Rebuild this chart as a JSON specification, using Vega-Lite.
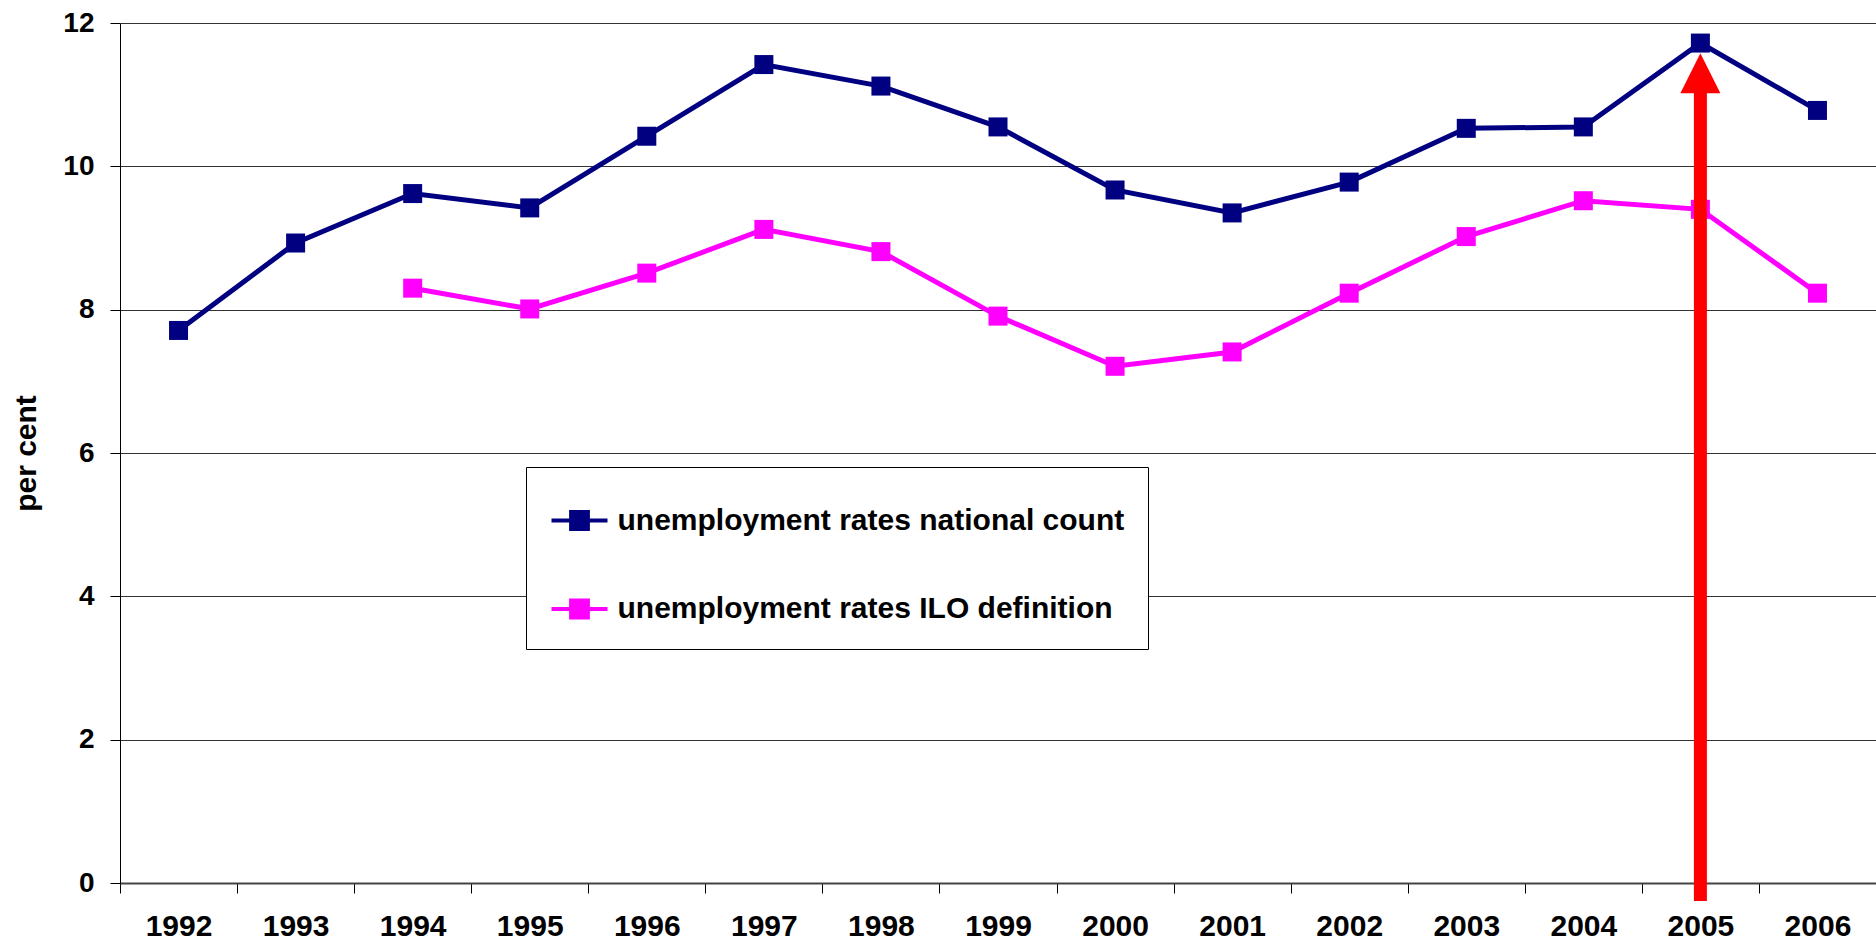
{
  "$schema": "https://vega.github.io/schema/vega-lite/v6.json",
  "autosize": {"type": "none"},
  "padding": {"left": 120, "top": 23, "right": 0, "bottom": 63},
  "width": 1756,
  "height": 860,
  "background": "white",
  "config": {
    "view": {"stroke": null},
    "font": "Liberation Sans",
    "axis": {
      "labelFont": "Liberation Sans",
      "labelFontWeight": "bold",
      "labelColor": "#000",
      "titleFont": "Liberation Sans",
      "titleFontWeight": "bold",
      "titleFontSize": 30,
      "titleColor": "#000"
    }
  },
  "datasets": {
    "rates": [
      {"year": "1992", "series": "unemployment rates national count", "value": 7.71},
      {"year": "1993", "series": "unemployment rates national count", "value": 8.93},
      {"year": "1994", "series": "unemployment rates national count", "value": 9.62},
      {"year": "1995", "series": "unemployment rates national count", "value": 9.42},
      {"year": "1996", "series": "unemployment rates national count", "value": 10.42},
      {"year": "1997", "series": "unemployment rates national count", "value": 11.42},
      {"year": "1998", "series": "unemployment rates national count", "value": 11.12},
      {"year": "1999", "series": "unemployment rates national count", "value": 10.55},
      {"year": "2000", "series": "unemployment rates national count", "value": 9.67},
      {"year": "2001", "series": "unemployment rates national count", "value": 9.35},
      {"year": "2002", "series": "unemployment rates national count", "value": 9.78},
      {"year": "2003", "series": "unemployment rates national count", "value": 10.53},
      {"year": "2004", "series": "unemployment rates national count", "value": 10.55},
      {"year": "2005", "series": "unemployment rates national count", "value": 11.72},
      {"year": "2006", "series": "unemployment rates national count", "value": 10.78},
      {"year": "1994", "series": "unemployment rates ILO definition", "value": 8.30},
      {"year": "1995", "series": "unemployment rates ILO definition", "value": 8.01},
      {"year": "1996", "series": "unemployment rates ILO definition", "value": 8.51},
      {"year": "1997", "series": "unemployment rates ILO definition", "value": 9.12},
      {"year": "1998", "series": "unemployment rates ILO definition", "value": 8.81},
      {"year": "1999", "series": "unemployment rates ILO definition", "value": 7.91},
      {"year": "2000", "series": "unemployment rates ILO definition", "value": 7.21},
      {"year": "2001", "series": "unemployment rates ILO definition", "value": 7.41},
      {"year": "2002", "series": "unemployment rates ILO definition", "value": 8.23},
      {"year": "2003", "series": "unemployment rates ILO definition", "value": 9.02},
      {"year": "2004", "series": "unemployment rates ILO definition", "value": 9.52},
      {"year": "2005", "series": "unemployment rates ILO definition", "value": 9.40},
      {"year": "2006", "series": "unemployment rates ILO definition", "value": 8.23}
    ],
    "marker": [
      {"year": "2005", "from": -0.25, "to": 11.05, "head": 11.3}
    ]
  },
  "layer": [
    {
      "data": {"name": "rates"},
      "mark": {"type": "line", "strokeWidth": 5},
      "encoding": {
        "x": {
          "field": "year", "type": "ordinal",
          "scale": {"type": "band", "paddingInner": 0, "paddingOuter": 0},
          "axis": {
            "title": null, "labelAngle": 0, "tickBand": "extent",
            "tickSize": 10, "tickColor": "#000", "tickWidth": 1,
            "domainColor": "#444", "domainWidth": 2,
            "labelFontSize": 30, "labelPadding": 18, "grid": false
          }
        },
        "y": {
          "field": "value", "type": "quantitative",
          "scale": {"domain": [0, 12], "nice": false, "zero": true},
          "axis": {
            "title": "per cent", "values": [0, 2, 4, 6, 8, 10, 12], "format": "d",
            "tickSize": 10, "tickColor": "#000", "domainColor": "#000", "domainWidth": 1,
            "labelFontSize": 28, "labelPadding": 16, "titlePadding": 21,
            "grid": true, "gridColor": "#333", "gridWidth": 1
          }
        },
        "color": {
          "field": "series", "type": "nominal",
          "sort": ["unemployment rates national count", "unemployment rates ILO definition"],
          "scale": {
            "domain": ["unemployment rates national count", "unemployment rates ILO definition"],
            "range": ["#000080", "#FF00FF"]
          },
          "legend": {
            "title": null,
            "orient": "none", "legendX": 406, "legendY": 444,
            "direction": "vertical",
            "fillColor": "white", "strokeColor": "#000",
            "padding": 23.5,
            "symbolType": "M-1,0H1M-0.3,-0.3H0.3V0.3H-0.3Z",
            "symbolSize": 3136, "symbolStrokeWidth": 4,
            "rowPadding": 41.5, "labelOffset": 8,
            "labelFont": "Liberation Sans", "labelFontWeight": "bold",
            "labelFontSize": 30, "labelColor": "#000", "labelLimit": 0,
            "encode": {
              "symbols": {
                "update": {
                  "fill": {
                    "condition": {"test": "datum.value === 'unemployment rates ILO definition'", "value": "#FF00FF"},
                    "value": "#000080"
                  }
                }
              }
            }
          }
        }
      }
    },
    {
      "data": {"name": "rates"},
      "mark": {"type": "point", "shape": "square", "filled": true, "size": 361, "opacity": 1},
      "encoding": {
        "x": {"field": "year", "type": "ordinal"},
        "y": {"field": "value", "type": "quantitative"},
        "color": {"field": "series", "type": "nominal"}
      }
    },
    {
      "data": {"name": "marker"},
      "mark": {"type": "rule", "color": "#FF0000", "strokeWidth": 13, "clip": false},
      "encoding": {
        "x": {"field": "year", "type": "ordinal"},
        "y": {"field": "from", "type": "quantitative"},
        "y2": {"field": "to"}
      }
    },
    {
      "data": {"name": "marker"},
      "mark": {
        "type": "point", "shape": "M0,-1L1,1H-1Z", "filled": true,
        "color": "#FF0000", "size": 1600, "opacity": 1, "clip": false
      },
      "encoding": {
        "x": {"field": "year", "type": "ordinal"},
        "y": {"field": "head", "type": "quantitative"}
      }
    }
  ]
}
